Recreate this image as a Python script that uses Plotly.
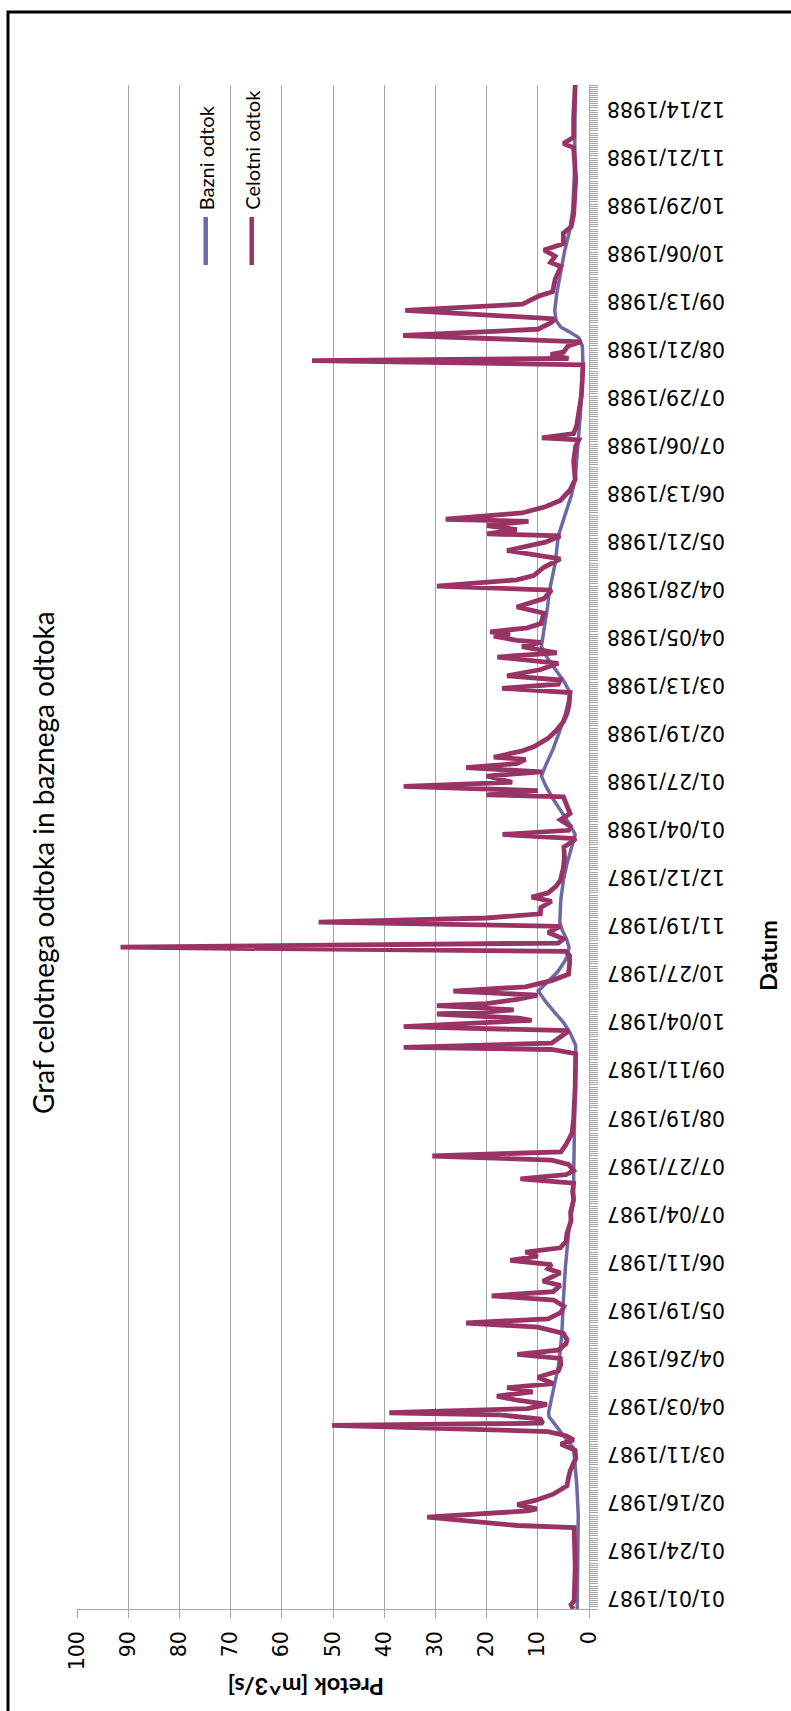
import pandas as pd
import plotly.graph_objects as go

# ---- data (day offset from 1987-01-01, flow m^3/s) ----
start = pd.Timestamp("1987-01-01")
end_day = 730

celotni_day = [0, 2, 4, 10, 20, 30, 39, 40, 44, 47, 48, 50, 52, 55, 59, 63, 66, 70, 72, 76,
               79, 81, 83, 85, 88, 89, 91, 93, 94, 96, 98, 100, 102, 104, 106, 108, 111, 114, 117, 120,
               122, 124, 127, 129, 132, 135, 137, 139, 142, 145, 148, 150, 152, 155, 157, 159, 161, 163, 165, 167,
               169, 171, 173, 176, 180, 186, 190, 196, 200, 204, 206, 208, 210, 213, 215, 217, 219, 222, 228, 235,
               240, 245, 250, 256, 262, 266, 268, 269, 271, 274, 277, 279, 281, 282, 283, 285, 286, 287, 289, 290,
               292, 294, 296, 298, 301, 304, 309, 313, 315, 317, 319, 321, 324, 327, 329, 331, 333, 336, 339, 341,
               343, 346, 349, 355, 360, 365, 368, 369, 371, 373, 375, 378, 381, 385, 389, 390, 392, 394, 396, 399,
               401, 403, 405, 407, 408, 411, 413, 417, 421, 425, 429, 433, 437, 439, 441, 443, 445, 447, 450, 453,
               456, 458, 461, 463, 464, 466, 467, 468, 470, 472, 477, 480, 484, 488, 490, 493, 495, 499, 503, 507,
               511, 514, 515, 517, 519, 521, 522, 525, 528, 531, 536, 541, 550, 557, 560, 561, 563, 567, 573, 581,
               589, 596, 598, 599, 601, 602, 605, 607, 610, 613, 616, 618, 622, 625, 629, 631, 637, 643, 645, 648,
               651, 654, 659, 662, 668, 675, 685, 693, 700, 702, 705, 714, 723, 730]
celotni_val = [3.1, 3.5, 2.9, 2.8, 2.7, 2.8, 2.9, 14.0, 31.6, 12.0, 10.2, 14.0, 10.5, 7.0, 4.3, 4.0, 3.7, 3.0, 2.6, 2.7,
               5.5, 3.0, 4.5, 8.0, 50.2, 9.0, 9.5, 17.5, 39.0, 12.0, 8.2, 14.0, 18.0, 11.0, 16.0, 7.0, 10.0, 6.0, 5.5, 5.6,
               14.0, 6.0, 4.5, 4.3, 5.0, 10.0, 24.0, 8.0, 5.5, 4.9, 6.9, 19.0, 7.0, 5.6, 9.0, 7.3, 5.6, 8.0, 7.3, 15.4,
               10.0, 12.4, 5.6, 4.5, 4.3, 3.5, 3.6, 3.0, 3.2, 3.0, 13.4, 4.5, 3.0, 4.0, 7.3, 30.6, 5.5, 4.6, 3.3, 3.0,
               3.0, 2.8, 2.7, 2.6, 2.6, 2.6, 7.3, 36.2, 7.3, 5.6, 3.9, 36.2, 17.9, 11.2, 13.7, 29.7, 20.0, 14.7, 29.7, 20.0,
               14.0, 10.0, 26.5, 12.4, 7.3, 4.0, 3.8, 3.8, 4.6, 91.5, 6.0, 5.0, 8.0, 5.6, 52.8, 20.0, 9.5, 9.4, 7.3, 11.2,
               8.0, 6.5, 5.6, 5.0, 4.8, 4.9, 3.0, 2.6, 16.9, 4.0, 3.7, 5.6, 3.7, 4.3, 5.0, 20.0, 10.0, 36.2, 15.0, 20.0,
               9.2, 24.0, 14.0, 12.4, 18.6, 13.1, 10.8, 8.0, 6.3, 5.0, 4.3, 3.9, 3.7, 3.7, 17.0, 6.0, 5.6, 16.0, 9.4, 6.0,
               17.9, 6.3, 13.1, 9.4, 14.1, 18.6, 15.4, 19.3, 12.0, 9.4, 8.8, 14.1, 8.8, 7.3, 29.7, 14.1, 10.8, 8.8, 5.6, 16.0,
               8.5, 5.6, 19.9, 14.1, 19.9, 11.8, 28.0, 13.1, 8.5, 5.6, 3.7, 2.7, 3.0, 2.6, 2.0, 9.2, 3.0, 2.4, 2.0, 1.5,
               1.3, 1.2, 54.1, 4.0, 7.5, 5.0, 4.1, 1.5, 36.3, 10.0, 7.5, 6.6, 35.9, 13.0, 9.7, 7.1, 6.6, 5.5, 7.5, 6.6,
               8.8, 5.0, 5.0, 3.5, 3.0, 2.8, 2.6, 2.8, 3.0, 5.0, 3.0, 3.0, 2.7, 2.7]

bazni_day = [0, 20, 45, 60, 70, 77, 80, 83, 88, 92, 94, 100, 108, 116, 124, 132, 148, 164, 180, 196,
             206, 220, 240, 265, 270, 276, 281, 286, 291, 296, 300, 305, 310, 313, 317, 321, 325, 329, 340, 349,
             357, 365, 371, 376, 382, 388, 394, 399, 405, 412, 420, 428, 435, 439, 444, 449, 455, 461, 470, 480,
             488, 501, 514, 525, 533, 541, 550, 560, 575, 590, 598, 605, 609, 612, 614, 617, 622, 630, 640, 650,
             660, 670, 690, 710, 730]
bazni_val = [2.3, 2.2, 2.1, 2.4, 2.7, 3.0, 4.0, 4.9, 6.5, 7.8, 7.9, 7.4, 6.6, 6.0, 5.6, 5.3, 5.0, 4.6, 4.0, 3.0,
             3.0, 2.9, 2.7, 2.6, 2.6, 3.7, 5.0, 6.8, 8.5, 9.9, 8.3, 6.2, 4.8, 4.2, 3.9, 4.4, 5.2, 5.7, 5.5, 5.0,
             4.3, 3.3, 2.7, 3.8, 5.5, 7.0, 8.4, 9.3, 8.3, 7.0, 5.8, 4.7, 4.0, 3.7, 4.8, 6.3, 8.0, 9.3, 8.7, 8.1,
             7.7, 6.6, 6.0, 4.6, 3.5, 2.7, 2.4, 2.1, 1.6, 1.3, 1.2, 1.3, 2.0, 4.0, 5.5, 6.4, 6.7, 6.3, 5.6, 4.8,
             3.8, 3.2, 2.8, 2.7, 2.7]

series_names = ["Bazni odtok", "Celotni odtok"]
series_colors = ["#6A6AA6", "#993366"]
title_text = "Graf celotnega odtoka in baznega odtoka"
value_title = "Pretok [m^3/s]"
date_title = "Datum"
value_ticks = [0, 10, 20, 30, 40, 50, 60, 70, 80, 90, 100]
tick_step_days = 23

celotni_dates = [start + pd.Timedelta(days=d) for d in celotni_day]
bazni_dates = [start + pd.Timedelta(days=d) for d in bazni_day]

# ---- figure geometry (pixels) ----
W, H = 791, 1711
L, R, T, B = 77, 202, 85, 102
PW, PH = W - L - R, H - T - B


def px(x):
    return (x - L) / PW


def py(y):
    return (H - B - y) / PH


GRID = "#A6A6A6"
TICKFONT = dict(family="DejaVu Sans", size=20.5, color="#000000")

fig = go.Figure()
fig.add_trace(go.Scatter(x=bazni_val, y=bazni_dates, mode="lines", name=series_names[0],
                         line=dict(color=series_colors[0], width=3.5)))
fig.add_trace(go.Scatter(x=celotni_val, y=celotni_dates, mode="lines", name=series_names[1],
                         line=dict(color=series_colors[1], width=4.8)))

fig.update_layout(
    width=W, height=H,
    margin=dict(l=L, r=R, t=T, b=B, pad=0),
    paper_bgcolor="white", plot_bgcolor="white",
    showlegend=False,
    xaxis=dict(
        range=[100, 0], tickmode="array", tickvals=value_ticks,
        showgrid=True, gridcolor=GRID, gridwidth=1,
        showline=True, linecolor=GRID, linewidth=1,
        ticks="outside", ticklen=8, tickcolor=GRID,
        tickangle=-90, tickfont=TICKFONT, zeroline=False,
        ticklabelstandoff=5,
    ),
    yaxis=dict(
        type="date", side="right",
        range=[start, start + pd.Timedelta(days=end_day)],
        tick0=start, dtick=tick_step_days * 86400000,
        tickformat="%m/%d/%Y", tickangle=180, tickfont=TICKFONT,
        ticklabelstandoff=123, ticklabelshift=-5,
        showgrid=False, zeroline=False,
        showline=True, linecolor=GRID, linewidth=1,
        ticks="outside", ticklen=8, tickcolor=GRID,
        minor=dict(dtick=86400000, ticks="outside", ticklen=8, tickcolor=GRID, tickwidth=1),
    ),
)

annotations = [
    dict(text=title_text, x=px(43), y=py(863), textangle=-90,
         font=dict(family="Lato", size=28, color="#000000")),
    dict(text="<b>" + value_title + "</b>", x=px(306), y=py(1687), textangle=180,
         font=dict(family="Lato", size=23.5, color="#000000")),
    dict(text="<b>" + date_title + "</b>", x=px(768), y=py(956), textangle=-90,
         font=dict(family="Lato", size=23.5, color="#000000")),
    dict(text=series_names[0], x=px(205.7), y=py(212), textangle=-90, yanchor="bottom",
         font=dict(family="Lato", size=20, color="#000000")),
    dict(text=series_names[1], x=px(251.7), y=py(212), textangle=-90, yanchor="bottom",
         font=dict(family="Lato", size=20, color="#000000")),
]
for a in annotations:
    a.update(xref="paper", yref="paper", showarrow=False)
    a.setdefault("xanchor", "center")
    a.setdefault("yanchor", "middle")
fig.update_layout(annotations=annotations)

shapes = [
    dict(type="line", x0=px(205.7), x1=px(205.7), y0=py(217), y1=py(265),
         line=dict(color=series_colors[0], width=4.5)),
    dict(type="line", x0=px(251.7), x1=px(251.7), y0=py(217), y1=py(265),
         line=dict(color=series_colors[1], width=4.5)),
    dict(type="rect", x0=px(8), x1=px(800), y0=py(12), y1=py(1730),
         line=dict(color="#000000", width=3), fillcolor="rgba(0,0,0,0)"),
]
for s in shapes:
    s.update(xref="paper", yref="paper", layer="above")
fig.update_layout(shapes=shapes)

fig.write_html("out.html")
